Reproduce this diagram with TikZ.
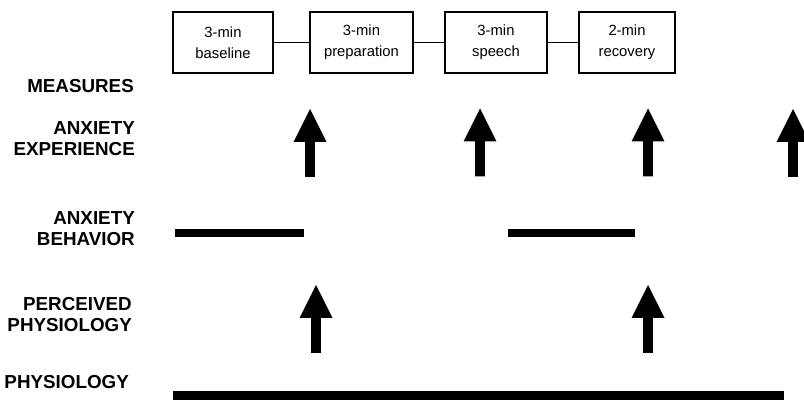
\documentclass[tikz,border=0pt]{standalone}
\usepackage{fontspec}
\setmainfont{Liberation Sans}
\begin{document}
\begin{tikzpicture}[x=1pt,y=-1pt,
  stage/.style={draw, line width=1.8pt, minimum width=#1, minimum height=61pt, inner sep=0pt,
     align=center, font=\fontsize{14.8}{21}\selectfont},
  measure/.style={anchor=east, align=right, inner sep=0pt, font=\fontsize{18.8}{21}\selectfont\bfseries},
  link/.style={line width=1.4pt},
  bar/.style={line width=#1},
  uparrow/.pic={\fill (0,0) -- (16.5,33) -- (4.8,33) -- (4.8,68) -- (-4.8,68) -- (-4.8,33) -- (-16.5,33) -- cycle;}
]
\useasboundingbox (0,0) rectangle (804,403);
\clip (0,0) rectangle (804,403);
% stages
\node[stage=100pt] (b1) at (223,42.5) {3-min\\baseline};
\node[stage=103pt] (b2) at (361.5,42.5) {3-min\\preparation};
\node[stage=102pt] (b3) at (496,42.5) {3-min\\speech};
\node[stage=96pt] (b4) at (627,42.5) {2-min\\recovery};
\draw[link] (b1) -- (b2);
\draw[link] (b2) -- (b3);
\draw[link] (b3) -- (b4);
% labels
\node[measure] (m0) at (134,86) {MEASURES};
\node[measure] (m1) at (135,139) {ANXIETY\\EXPERIENCE};
\node[measure] (m2) at (135,228.5) {ANXIETY\\BEHAVIOR};
\node[measure] (m3) at (132,314.5) {PERCEIVED\\PHYSIOLOGY};
\node[measure] (m4) at (129,382) {PHYSIOLOGY};
% anxiety experience arrows
\pic at (310,109) {uparrow};
\pic at (480,108.5) {uparrow};
\pic at (648,108.5) {uparrow};
\pic at (793,109) {uparrow};
% anxiety behavior bars
\coordinate (ab1s) at (175,233);
\coordinate (ab1e) at (304,233);
\coordinate (ab2s) at (508,233);
\coordinate (ab2e) at (635,233);
\draw[bar=7.5pt] (ab1s) -- (ab1e);
\draw[bar=7.5pt] (ab2s) -- (ab2e);
% perceived physiology arrows
\pic at (316,285) {uparrow};
\pic at (648,285) {uparrow};
% physiology bar
\coordinate (ps) at (173,395.5);
\coordinate (pe) at (784,395.5);
\draw[bar=9pt] (ps) -- (pe);
\end{tikzpicture}
\end{document}
